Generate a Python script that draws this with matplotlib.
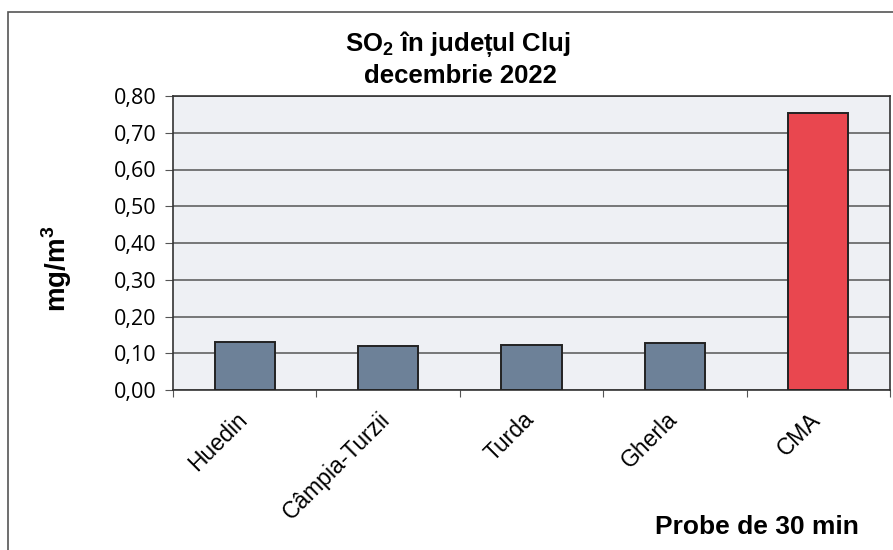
import numpy as np
import matplotlib.pyplot as plt
import matplotlib.transforms as mtransforms
from matplotlib.patches import Rectangle

plt.rcParams.update({
    'mathtext.fontset': 'custom',
    'mathtext.rm': 'Liberation Sans',
    'mathtext.bf': 'Liberation Sans:bold',
})

statii = ['Huedin', 'Câmpia-Turzii', 'Turda', 'Gherla', 'CMA']
valori = [0.131, 0.120, 0.123, 0.127, 0.753]
culori = ['#6d8198', '#6d8198', '#6d8198', '#6d8198', '#e9474f']
yticks = [0.0, 0.1, 0.2, 0.3, 0.4, 0.5, 0.6, 0.7, 0.8]

fig = plt.figure(figsize=(8.93, 5.5), dpi=100)
fig.patch.set_facecolor('white')

# chenarul exterior al graficului
fig.patches.append(Rectangle((8/893, -0.1), 1.2, 1 - 12/550 + 0.1,
                             transform=fig.transFigure, fill=False,
                             edgecolor='#555555', lw=1.2))

ax = fig.add_axes([173/893, 1 - 390/550, 717/893, 294/550])
ax.set_facecolor('#eef0f4')

x = np.arange(len(statii))
ax.bar(x, valori, width=0.42, color=culori, edgecolor='#222222', lw=1.4, zorder=3)

ax.set_xlim(-0.5, len(statii) - 0.5)
ax.set_ylim(0, 0.8)
ax.set_yticks(yticks)
ax.set_yticklabels([f'{v:.2f}'.replace('.', ',') for v in yticks],
                   fontsize=15.5, family='Open Sans')
ax.grid(axis='y', color='#555555', lw=1.1, zorder=1)
ax.tick_params(axis='y', length=6, color='#555555', pad=6)
ax.tick_params(axis='x', length=5, color='#555555')
ax.set_xticks(np.arange(len(statii) + 1) - 0.5, minor=False)
ax.set_xticklabels([])
ax.set_xticks(x, minor=True)
ax.set_xticklabels(statii, minor=True, rotation=45, ha='right', va='top',
                   fontsize=16.5, family='Liberation Sans')
ax.tick_params(axis='x', which='minor', length=0, pad=13)
offset = mtransforms.ScaledTranslation(7/100, 0, fig.dpi_scale_trans)
for lbl in ax.get_xticklabels(minor=True):
    lbl.set_transform(lbl.get_transform() + offset)

for s in ax.spines.values():
    s.set_color('#333333')
    s.set_linewidth(1.2)

fig.text(57/893, 1 - 269/550, 'mg/m$^\\mathbf{3}$', ha='center', va='center',
         rotation=90, fontsize=20, fontweight='bold', family='Liberation Sans')

fig.text(458/893, 1 - 44/550, 'SO$_\\mathbf{2}$ în județul Cluj', ha='center', va='center',
         fontsize=18.5, fontweight='bold', family='Liberation Sans')
fig.text(460/893, 1 - 76/550, 'decembrie 2022', ha='center', va='center',
         fontsize=18.5, fontweight='bold', family='Liberation Sans')
fig.text(757/893, 1 - 527/550, 'Probe de 30 min', ha='center', va='center',
         fontsize=19, fontweight='bold', family='Liberation Sans')

fig.savefig('out.png', dpi=100)
